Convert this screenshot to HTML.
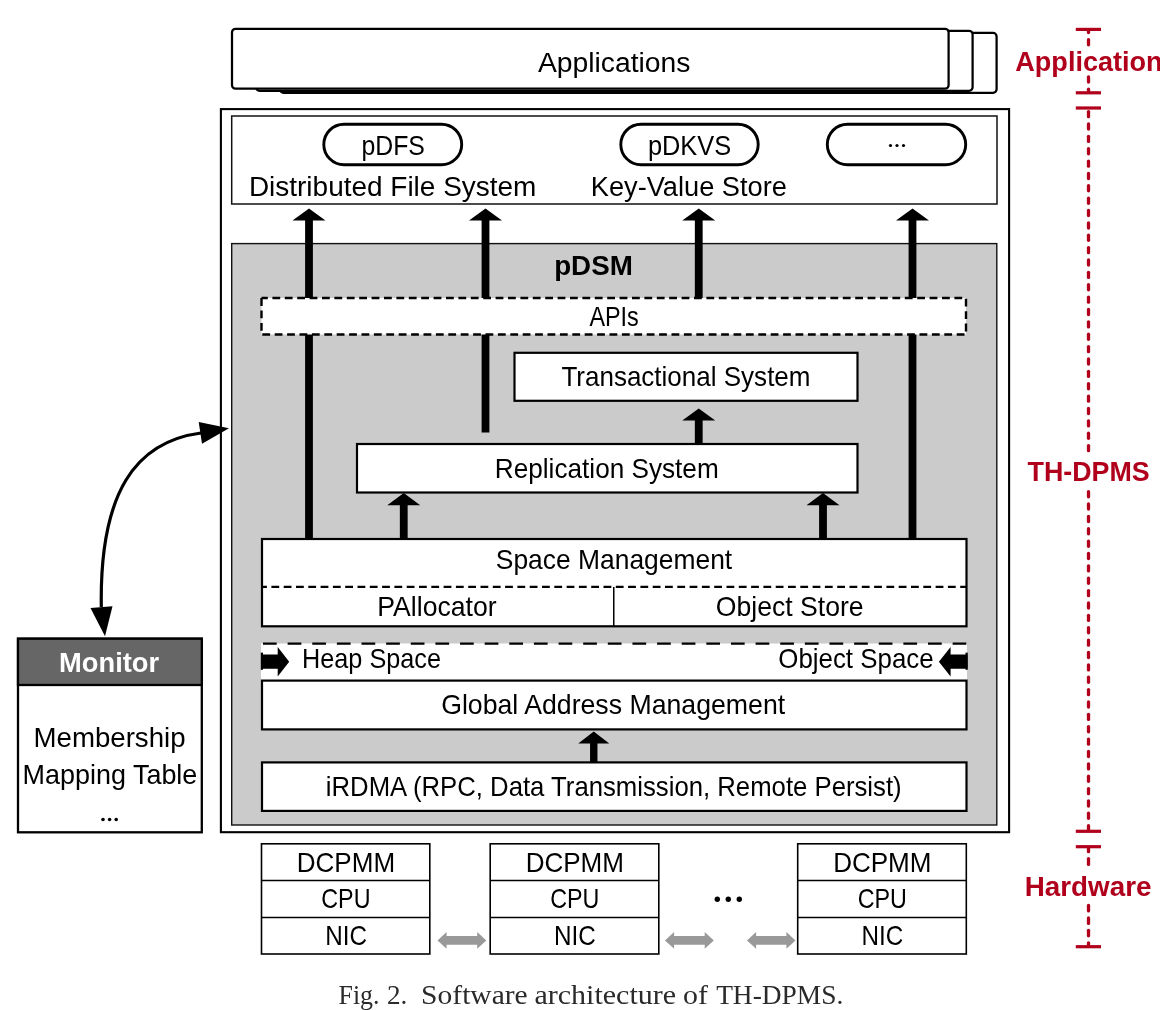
<!DOCTYPE html>
<html><head><meta charset="utf-8"><title>Fig. 2</title>
<style>
html,body{margin:0;padding:0;background:#fff;}
body{width:1160px;height:1010px;overflow:hidden;font-family:"Liberation Sans",sans-serif;}
svg{display:block;will-change:transform;}
</style></head><body>
<svg width="1160" height="1010" viewBox="0 0 1160 1010">
<rect x="0" y="0" width="1160" height="1010" fill="#fff"/>
<rect x="280" y="32.9" width="716.6" height="59.9" fill="#fff" stroke="#000" stroke-width="2.25" rx="3.5"/>
<rect x="256" y="30.85" width="716.6" height="59.9" fill="#fff" stroke="#000" stroke-width="2.25" rx="3.5"/>
<rect x="232" y="28.8" width="716.6" height="59.9" fill="#fff" stroke="#000" stroke-width="2.25" rx="3.5"/>
<text x="537.91" y="71.9" font-family="'Liberation Sans', sans-serif" font-size="28.2" fill="#000" textLength="152.60" lengthAdjust="spacingAndGlyphs">Applications</text>
<rect x="220.9" y="109.1" width="788.2" height="723.1" fill="#fff" stroke="#000" stroke-width="2.1"/>
<rect x="231.7" y="116" width="765.3" height="88" fill="#fff" stroke="#111" stroke-width="1.5"/>
<rect x="323.8" y="124.2" width="137.89999999999998" height="40.5" fill="#fff" stroke="#000" stroke-width="2.9" rx="20.25"/>
<rect x="620.8" y="124.2" width="137.4000000000001" height="40.5" fill="#fff" stroke="#000" stroke-width="2.9" rx="20.25"/>
<rect x="827.3" y="124.2" width="138.4000000000001" height="40.5" fill="#fff" stroke="#000" stroke-width="2.9" rx="20.25"/>
<text x="361.43" y="154.5" font-family="'Liberation Sans', sans-serif" font-size="28.2" fill="#000" textLength="63.47" lengthAdjust="spacingAndGlyphs">pDFS</text>
<text x="647.89" y="154.5" font-family="'Liberation Sans', sans-serif" font-size="28.2" fill="#000" textLength="83.27" lengthAdjust="spacingAndGlyphs">pDKVS</text>
<text x="248.92" y="195.5" font-family="'Liberation Sans', sans-serif" font-size="28.2" fill="#000" textLength="287.46" lengthAdjust="spacingAndGlyphs">Distributed File System</text>
<text x="590.73" y="195.5" font-family="'Liberation Sans', sans-serif" font-size="28.2" fill="#000" textLength="196.22" lengthAdjust="spacingAndGlyphs">Key-Value Store</text>
<circle cx="890.5" cy="145.5" r="1.6" fill="#000"/>
<circle cx="897" cy="145.5" r="1.6" fill="#000"/>
<circle cx="903.5" cy="145.5" r="1.6" fill="#000"/>
<rect x="231.7" y="243.6" width="765.0999999999999" height="581.4" fill="#cbcbcb" stroke="#111" stroke-width="1.4"/>
<path d="M309 208.6 L325.5 220.6 L312.9 220.6 L312.9 539 L305.1 539 L305.1 220.6 L292.5 220.6 Z" fill="#000"/>
<path d="M485.5 208.6 L502.0 220.6 L489.4 220.6 L489.4 432.5 L481.6 432.5 L481.6 220.6 L469.0 220.6 Z" fill="#000"/>
<path d="M698.75 208.6 L715.25 220.6 L702.65 220.6 L702.65 300 L694.85 300 L694.85 220.6 L682.25 220.6 Z" fill="#000"/>
<path d="M912.5 208.6 L929.0 220.6 L916.4 220.6 L916.4 539 L908.6 539 L908.6 220.6 L896.0 220.6 Z" fill="#000"/>
<text x="554.15" y="274.5" font-family="'Liberation Sans', sans-serif" font-size="27.8" font-weight="700" fill="#000" textLength="78.70" lengthAdjust="spacingAndGlyphs">pDSM</text>
<rect x="261.5" y="298" width="704.5" height="36.5" fill="#fff" stroke="#000" stroke-width="2.4" stroke-dasharray="7.8 4.6" stroke-dashoffset="1.5"/>
<text x="589.42" y="325.8" font-family="'Liberation Sans', sans-serif" font-size="27.6" fill="#000" textLength="49.40" lengthAdjust="spacingAndGlyphs">APIs</text>
<rect x="514.5" y="352.8" width="343.0" height="48.0" fill="#fff" stroke="#000" stroke-width="2.2"/>
<text x="561.39" y="386" font-family="'Liberation Sans', sans-serif" font-size="27.6" fill="#000" textLength="249.12" lengthAdjust="spacingAndGlyphs">Transactional System</text>
<path d="M698.75 408.5 L715.25 420.5 L702.65 420.5 L702.65 443 L694.85 443 L694.85 420.5 L682.25 420.5 Z" fill="#000"/>
<rect x="357" y="444" width="500.5" height="48.5" fill="#fff" stroke="#000" stroke-width="2.2"/>
<text x="494.82" y="477.6" font-family="'Liberation Sans', sans-serif" font-size="27.6" fill="#000" textLength="223.90" lengthAdjust="spacingAndGlyphs">Replication System</text>
<path d="M403.75 493 L420.25 505.3 L407.65 505.3 L407.65 538 L399.85 538 L399.85 505.3 L387.25 505.3 Z" fill="#000"/>
<path d="M823 493 L839.5 505.3 L826.9 505.3 L826.9 538 L819.1 538 L819.1 505.3 L806.5 505.3 Z" fill="#000"/>
<rect x="262" y="539" width="704.5" height="87.29999999999995" fill="#fff" stroke="#000" stroke-width="2.2"/>
<line x1="262" y1="586.9" x2="966.5" y2="586.9" stroke="#000" stroke-width="2.4" stroke-dasharray="7.8 4.5" stroke-dashoffset="2.9"/>
<line x1="613.75" y1="587" x2="613.75" y2="626" stroke="#000" stroke-width="1.5" />
<text x="495.77" y="568.75" font-family="'Liberation Sans', sans-serif" font-size="27.6" fill="#000" textLength="236.41" lengthAdjust="spacingAndGlyphs">Space Management</text>
<text x="377.28" y="615.75" font-family="'Liberation Sans', sans-serif" font-size="27.6" fill="#000" textLength="119.41" lengthAdjust="spacingAndGlyphs">PAllocator</text>
<text x="715.76" y="615.75" font-family="'Liberation Sans', sans-serif" font-size="27.6" fill="#000" textLength="147.84" lengthAdjust="spacingAndGlyphs">Object Store</text>
<rect x="261" y="643.5" width="706" height="37.5" fill="#fff" stroke="#000" stroke-width="0"/>
<line x1="263" y1="643.6" x2="967.5" y2="643.6" stroke="#000" stroke-width="2.4" stroke-dasharray="13.7 10.93"/>
<line x1="261.9" y1="652.6" x2="261.9" y2="669.8" stroke="#000" stroke-width="2.2" />
<line x1="966.6" y1="652.6" x2="966.6" y2="669.8" stroke="#000" stroke-width="2.2" />
<path d="M261 654.4 L277.7 654.4 L277.7 647 L289.2 661.8 L277.7 676.6 L277.7 668.7 L261 668.7 Z" fill="#000"/>
<path d="M967.5 654.4 L950.6 654.4 L950.6 647 L938.9 661.8 L950.6 676.6 L950.6 668.7 L967.5 668.7 Z" fill="#000"/>
<text x="302.10" y="667.8" font-family="'Liberation Sans', sans-serif" font-size="27.6" fill="#000" textLength="138.81" lengthAdjust="spacingAndGlyphs">Heap Space</text>
<text x="778.29" y="667.8" font-family="'Liberation Sans', sans-serif" font-size="27.6" fill="#000" textLength="155.33" lengthAdjust="spacingAndGlyphs">Object Space</text>
<rect x="262" y="680.6" width="704.5" height="48.799999999999955" fill="#fff" stroke="#000" stroke-width="2.2"/>
<text x="441.17" y="713.75" font-family="'Liberation Sans', sans-serif" font-size="27.6" fill="#000" textLength="344.00" lengthAdjust="spacingAndGlyphs">Global Address Management</text>
<path d="M593.75 731.6 L609.25 743.4 L597.45 743.4 L597.45 762 L590.05 762 L590.05 743.4 L578.25 743.4 Z" fill="#000"/>
<rect x="262" y="762.4" width="704.5" height="48.5" fill="#fff" stroke="#000" stroke-width="2.2"/>
<text x="325.79" y="795.75" font-family="'Liberation Sans', sans-serif" font-size="27.6" fill="#000" textLength="575.86" lengthAdjust="spacingAndGlyphs">iRDMA (RPC, Data Transmission, Remote Persist)</text>
<rect x="18" y="638.7" width="183.8" height="193.5999999999999" fill="#fff" stroke="#000" stroke-width="2.3"/>
<rect x="18" y="638.7" width="183.8" height="46.3" fill="#666" stroke="#000" stroke-width="2.3"/>
<text x="59.08" y="671.6" font-family="'Liberation Sans', sans-serif" font-size="27.8" font-weight="700" fill="#fff" textLength="100.09" lengthAdjust="spacingAndGlyphs">Monitor</text>
<text x="33.50" y="747" font-family="'Liberation Sans', sans-serif" font-size="27.6" fill="#000" textLength="152.06" lengthAdjust="spacingAndGlyphs">Membership</text>
<text x="22.55" y="783.75" font-family="'Liberation Sans', sans-serif" font-size="27.6" fill="#000" textLength="174.80" lengthAdjust="spacingAndGlyphs">Mapping Table</text>
<circle cx="103" cy="819.5" r="1.8" fill="#000"/>
<circle cx="109.6" cy="819.5" r="1.8" fill="#000"/>
<circle cx="116.2" cy="819.5" r="1.8" fill="#000"/>
<path d="M201 433 C135.4 441.6, 99.5 492.4, 101.3 607" fill="none" stroke="#000" stroke-width="3.2"/>
<path d="M229 428.3 L198.7 422 L202 443.8 Z" fill="#000"/>
<path d="M105 636.3 L90.5 608 L112.5 606.2 Z" fill="#000"/>
<rect x="261.5" y="843.8" width="168.3" height="110.20000000000005" fill="#fff" stroke="#000" stroke-width="1.6"/>
<line x1="261.5" y1="880.5" x2="429.8" y2="880.5" stroke="#000" stroke-width="1.6" />
<line x1="261.5" y1="917.5" x2="429.8" y2="917.5" stroke="#000" stroke-width="1.6" />
<text x="296.78" y="871.7" font-family="'Liberation Sans', sans-serif" font-size="27.2" fill="#000" textLength="98.36" lengthAdjust="spacingAndGlyphs">DCPMM</text>
<text x="321.29" y="908.4" font-family="'Liberation Sans', sans-serif" font-size="27.2" fill="#000" textLength="49.18" lengthAdjust="spacingAndGlyphs">CPU</text>
<text x="325.23" y="945.3" font-family="'Liberation Sans', sans-serif" font-size="27.2" fill="#000" textLength="41.76" lengthAdjust="spacingAndGlyphs">NIC</text>
<rect x="490.2" y="843.8" width="168.59999999999997" height="110.20000000000005" fill="#fff" stroke="#000" stroke-width="1.6"/>
<line x1="490.2" y1="880.5" x2="658.8" y2="880.5" stroke="#000" stroke-width="1.6" />
<line x1="490.2" y1="917.5" x2="658.8" y2="917.5" stroke="#000" stroke-width="1.6" />
<text x="525.63" y="871.7" font-family="'Liberation Sans', sans-serif" font-size="27.2" fill="#000" textLength="98.36" lengthAdjust="spacingAndGlyphs">DCPMM</text>
<text x="550.14" y="908.4" font-family="'Liberation Sans', sans-serif" font-size="27.2" fill="#000" textLength="49.18" lengthAdjust="spacingAndGlyphs">CPU</text>
<text x="554.08" y="945.3" font-family="'Liberation Sans', sans-serif" font-size="27.2" fill="#000" textLength="41.76" lengthAdjust="spacingAndGlyphs">NIC</text>
<rect x="797.7" y="843.8" width="168.5999999999999" height="110.20000000000005" fill="#fff" stroke="#000" stroke-width="1.6"/>
<line x1="797.7" y1="880.5" x2="966.3" y2="880.5" stroke="#000" stroke-width="1.6" />
<line x1="797.7" y1="917.5" x2="966.3" y2="917.5" stroke="#000" stroke-width="1.6" />
<text x="833.13" y="871.7" font-family="'Liberation Sans', sans-serif" font-size="27.2" fill="#000" textLength="98.36" lengthAdjust="spacingAndGlyphs">DCPMM</text>
<text x="857.64" y="908.4" font-family="'Liberation Sans', sans-serif" font-size="27.2" fill="#000" textLength="49.18" lengthAdjust="spacingAndGlyphs">CPU</text>
<text x="861.58" y="945.3" font-family="'Liberation Sans', sans-serif" font-size="27.2" fill="#000" textLength="41.76" lengthAdjust="spacingAndGlyphs">NIC</text>
<path d="M437.5 940.4 L446.6 932.0 L446.6 936.1 L477.2 936.1 L477.2 932.0 L486.3 940.4 L477.2 948.8 L477.2 944.6999999999999 L446.6 944.6999999999999 L446.6 948.8 Z" fill="#999"/>
<path d="M665 940.4 L674.1 932.0 L674.1 936.1 L704.6999999999999 936.1 L704.6999999999999 932.0 L713.8 940.4 L704.6999999999999 948.8 L704.6999999999999 944.6999999999999 L674.1 944.6999999999999 L674.1 948.8 Z" fill="#999"/>
<path d="M747 940.4 L756.1 932.0 L756.1 936.1 L786.4 936.1 L786.4 932.0 L795.5 940.4 L786.4 948.8 L786.4 944.6999999999999 L756.1 944.6999999999999 L756.1 948.8 Z" fill="#999"/>
<circle cx="717.3" cy="899.2" r="2.7" fill="#000"/>
<circle cx="728.3" cy="899.2" r="2.7" fill="#000"/>
<circle cx="739.3" cy="899.2" r="2.7" fill="#000"/>
<line x1="1075.8" y1="29.4" x2="1101" y2="29.4" stroke="#b0001c" stroke-width="3.2" />
<line x1="1075.8" y1="92.8" x2="1101" y2="92.8" stroke="#b0001c" stroke-width="3.2" />
<line x1="1075.8" y1="108" x2="1101" y2="108" stroke="#b0001c" stroke-width="3.2" />
<line x1="1075.8" y1="831.3" x2="1101" y2="831.3" stroke="#b0001c" stroke-width="3.2" />
<line x1="1075.8" y1="846.7" x2="1101" y2="846.7" stroke="#b0001c" stroke-width="3.2" />
<line x1="1075.8" y1="946.7" x2="1101" y2="946.7" stroke="#b0001c" stroke-width="3.2" />
<line x1="1088.5" y1="30.15" x2="1088.5" y2="32.5" stroke="#b0001c" stroke-width="3.3" stroke-linecap="round"/>
<line x1="1088.5" y1="39.75" x2="1088.5" y2="44.75" stroke="#b0001c" stroke-width="3.3" stroke-linecap="round"/>
<line x1="1088.5" y1="76.85" x2="1088.5" y2="82.05" stroke="#b0001c" stroke-width="3.3" stroke-linecap="round"/>
<line x1="1088.5" y1="89.25" x2="1088.5" y2="92.35" stroke="#b0001c" stroke-width="3.3" stroke-linecap="round"/>
<line x1="1088.5" y1="111.55" x2="1088.5" y2="116.65" stroke="#b0001c" stroke-width="3.3" stroke-linecap="round"/>
<line x1="1088.5" y1="123.92" x2="1088.5" y2="129.02" stroke="#b0001c" stroke-width="3.3" stroke-linecap="round"/>
<line x1="1088.5" y1="136.29" x2="1088.5" y2="141.39" stroke="#b0001c" stroke-width="3.3" stroke-linecap="round"/>
<line x1="1088.5" y1="148.66" x2="1088.5" y2="153.76" stroke="#b0001c" stroke-width="3.3" stroke-linecap="round"/>
<line x1="1088.5" y1="161.03" x2="1088.5" y2="166.13" stroke="#b0001c" stroke-width="3.3" stroke-linecap="round"/>
<line x1="1088.5" y1="173.4" x2="1088.5" y2="178.5" stroke="#b0001c" stroke-width="3.3" stroke-linecap="round"/>
<line x1="1088.5" y1="185.77" x2="1088.5" y2="190.87" stroke="#b0001c" stroke-width="3.3" stroke-linecap="round"/>
<line x1="1088.5" y1="198.14" x2="1088.5" y2="203.24" stroke="#b0001c" stroke-width="3.3" stroke-linecap="round"/>
<line x1="1088.5" y1="210.51" x2="1088.5" y2="215.61" stroke="#b0001c" stroke-width="3.3" stroke-linecap="round"/>
<line x1="1088.5" y1="222.88" x2="1088.5" y2="227.98" stroke="#b0001c" stroke-width="3.3" stroke-linecap="round"/>
<line x1="1088.5" y1="235.25" x2="1088.5" y2="240.35" stroke="#b0001c" stroke-width="3.3" stroke-linecap="round"/>
<line x1="1088.5" y1="247.62" x2="1088.5" y2="252.72" stroke="#b0001c" stroke-width="3.3" stroke-linecap="round"/>
<line x1="1088.5" y1="259.99" x2="1088.5" y2="265.09" stroke="#b0001c" stroke-width="3.3" stroke-linecap="round"/>
<line x1="1088.5" y1="272.36" x2="1088.5" y2="277.46" stroke="#b0001c" stroke-width="3.3" stroke-linecap="round"/>
<line x1="1088.5" y1="284.73" x2="1088.5" y2="289.83" stroke="#b0001c" stroke-width="3.3" stroke-linecap="round"/>
<line x1="1088.5" y1="297.1" x2="1088.5" y2="302.2" stroke="#b0001c" stroke-width="3.3" stroke-linecap="round"/>
<line x1="1088.5" y1="309.47" x2="1088.5" y2="314.57" stroke="#b0001c" stroke-width="3.3" stroke-linecap="round"/>
<line x1="1088.5" y1="321.84" x2="1088.5" y2="326.94" stroke="#b0001c" stroke-width="3.3" stroke-linecap="round"/>
<line x1="1088.5" y1="334.21" x2="1088.5" y2="339.31" stroke="#b0001c" stroke-width="3.3" stroke-linecap="round"/>
<line x1="1088.5" y1="346.58" x2="1088.5" y2="351.68" stroke="#b0001c" stroke-width="3.3" stroke-linecap="round"/>
<line x1="1088.5" y1="358.95" x2="1088.5" y2="364.05" stroke="#b0001c" stroke-width="3.3" stroke-linecap="round"/>
<line x1="1088.5" y1="371.32" x2="1088.5" y2="376.42" stroke="#b0001c" stroke-width="3.3" stroke-linecap="round"/>
<line x1="1088.5" y1="383.69" x2="1088.5" y2="388.79" stroke="#b0001c" stroke-width="3.3" stroke-linecap="round"/>
<line x1="1088.5" y1="396.06" x2="1088.5" y2="401.16" stroke="#b0001c" stroke-width="3.3" stroke-linecap="round"/>
<line x1="1088.5" y1="408.43" x2="1088.5" y2="413.53" stroke="#b0001c" stroke-width="3.3" stroke-linecap="round"/>
<line x1="1088.5" y1="420.8" x2="1088.5" y2="425.9" stroke="#b0001c" stroke-width="3.3" stroke-linecap="round"/>
<line x1="1088.5" y1="433.17" x2="1088.5" y2="438.27" stroke="#b0001c" stroke-width="3.3" stroke-linecap="round"/>
<line x1="1088.5" y1="445.54" x2="1088.5" y2="450.64" stroke="#b0001c" stroke-width="3.3" stroke-linecap="round"/>
<line x1="1088.5" y1="491.65" x2="1088.5" y2="496.75" stroke="#b0001c" stroke-width="3.3" stroke-linecap="round"/>
<line x1="1088.5" y1="504.02" x2="1088.5" y2="509.12" stroke="#b0001c" stroke-width="3.3" stroke-linecap="round"/>
<line x1="1088.5" y1="516.39" x2="1088.5" y2="521.49" stroke="#b0001c" stroke-width="3.3" stroke-linecap="round"/>
<line x1="1088.5" y1="528.76" x2="1088.5" y2="533.86" stroke="#b0001c" stroke-width="3.3" stroke-linecap="round"/>
<line x1="1088.5" y1="541.13" x2="1088.5" y2="546.23" stroke="#b0001c" stroke-width="3.3" stroke-linecap="round"/>
<line x1="1088.5" y1="553.5" x2="1088.5" y2="558.6" stroke="#b0001c" stroke-width="3.3" stroke-linecap="round"/>
<line x1="1088.5" y1="565.87" x2="1088.5" y2="570.97" stroke="#b0001c" stroke-width="3.3" stroke-linecap="round"/>
<line x1="1088.5" y1="578.24" x2="1088.5" y2="583.34" stroke="#b0001c" stroke-width="3.3" stroke-linecap="round"/>
<line x1="1088.5" y1="590.61" x2="1088.5" y2="595.71" stroke="#b0001c" stroke-width="3.3" stroke-linecap="round"/>
<line x1="1088.5" y1="602.98" x2="1088.5" y2="608.08" stroke="#b0001c" stroke-width="3.3" stroke-linecap="round"/>
<line x1="1088.5" y1="615.35" x2="1088.5" y2="620.45" stroke="#b0001c" stroke-width="3.3" stroke-linecap="round"/>
<line x1="1088.5" y1="627.72" x2="1088.5" y2="632.82" stroke="#b0001c" stroke-width="3.3" stroke-linecap="round"/>
<line x1="1088.5" y1="640.09" x2="1088.5" y2="645.19" stroke="#b0001c" stroke-width="3.3" stroke-linecap="round"/>
<line x1="1088.5" y1="652.46" x2="1088.5" y2="657.56" stroke="#b0001c" stroke-width="3.3" stroke-linecap="round"/>
<line x1="1088.5" y1="664.83" x2="1088.5" y2="669.93" stroke="#b0001c" stroke-width="3.3" stroke-linecap="round"/>
<line x1="1088.5" y1="677.2" x2="1088.5" y2="682.3" stroke="#b0001c" stroke-width="3.3" stroke-linecap="round"/>
<line x1="1088.5" y1="689.57" x2="1088.5" y2="694.67" stroke="#b0001c" stroke-width="3.3" stroke-linecap="round"/>
<line x1="1088.5" y1="701.94" x2="1088.5" y2="707.04" stroke="#b0001c" stroke-width="3.3" stroke-linecap="round"/>
<line x1="1088.5" y1="714.31" x2="1088.5" y2="719.41" stroke="#b0001c" stroke-width="3.3" stroke-linecap="round"/>
<line x1="1088.5" y1="726.68" x2="1088.5" y2="731.78" stroke="#b0001c" stroke-width="3.3" stroke-linecap="round"/>
<line x1="1088.5" y1="739.05" x2="1088.5" y2="744.15" stroke="#b0001c" stroke-width="3.3" stroke-linecap="round"/>
<line x1="1088.5" y1="751.42" x2="1088.5" y2="756.52" stroke="#b0001c" stroke-width="3.3" stroke-linecap="round"/>
<line x1="1088.5" y1="763.79" x2="1088.5" y2="768.89" stroke="#b0001c" stroke-width="3.3" stroke-linecap="round"/>
<line x1="1088.5" y1="776.16" x2="1088.5" y2="781.26" stroke="#b0001c" stroke-width="3.3" stroke-linecap="round"/>
<line x1="1088.5" y1="788.53" x2="1088.5" y2="793.63" stroke="#b0001c" stroke-width="3.3" stroke-linecap="round"/>
<line x1="1088.5" y1="800.9" x2="1088.5" y2="806.0" stroke="#b0001c" stroke-width="3.3" stroke-linecap="round"/>
<line x1="1088.5" y1="813.27" x2="1088.5" y2="818.37" stroke="#b0001c" stroke-width="3.3" stroke-linecap="round"/>
<line x1="1088.5" y1="825.64" x2="1088.5" y2="830.74" stroke="#b0001c" stroke-width="3.3" stroke-linecap="round"/>
<line x1="1088.5" y1="847.65" x2="1088.5" y2="851.65" stroke="#b0001c" stroke-width="3.3" stroke-linecap="round"/>
<line x1="1088.5" y1="858.55" x2="1088.5" y2="864.45" stroke="#b0001c" stroke-width="3.3" stroke-linecap="round"/>
<line x1="1088.5" y1="905.45" x2="1088.5" y2="910.95" stroke="#b0001c" stroke-width="3.3" stroke-linecap="round"/>
<line x1="1088.5" y1="917.95" x2="1088.5" y2="923.45" stroke="#b0001c" stroke-width="3.3" stroke-linecap="round"/>
<line x1="1088.5" y1="930.35" x2="1088.5" y2="935.85" stroke="#b0001c" stroke-width="3.3" stroke-linecap="round"/>
<line x1="1088.5" y1="942.85" x2="1088.5" y2="946.35" stroke="#b0001c" stroke-width="3.3" stroke-linecap="round"/>
<text x="1015.28" y="71.3" font-family="'Liberation Sans', sans-serif" font-size="27.5" font-weight="700" fill="#b0001c" textLength="147.37" lengthAdjust="spacingAndGlyphs">Application</text>
<text x="1027.53" y="481.4" font-family="'Liberation Sans', sans-serif" font-size="27.8" font-weight="700" fill="#b0001c" textLength="122.19" lengthAdjust="spacingAndGlyphs">TH-DPMS</text>
<text x="1024.75" y="895.8" font-family="'Liberation Sans', sans-serif" font-size="27.8" font-weight="700" fill="#b0001c" textLength="126.71" lengthAdjust="spacingAndGlyphs">Hardware</text>
<text x="338.53" y="1003.6" font-family="'Liberation Serif', sans-serif" font-size="28" fill="#2a2a2a" textLength="40.91" lengthAdjust="spacingAndGlyphs">Fig.</text>
<text x="387.02" y="1003.6" font-family="'Liberation Serif', sans-serif" font-size="28" fill="#2a2a2a" textLength="20.39" lengthAdjust="spacingAndGlyphs">2.</text>
<text x="421.13" y="1003.6" font-family="'Liberation Serif', sans-serif" font-size="28" fill="#2a2a2a" textLength="106.55" lengthAdjust="spacingAndGlyphs">Software</text>
<text x="534.50" y="1003.6" font-family="'Liberation Serif', sans-serif" font-size="28" fill="#2a2a2a" textLength="141.56" lengthAdjust="spacingAndGlyphs">architecture</text>
<text x="683.10" y="1003.6" font-family="'Liberation Serif', sans-serif" font-size="28" fill="#2a2a2a" textLength="24.89" lengthAdjust="spacingAndGlyphs">of</text>
<text x="716.14" y="1003.6" font-family="'Liberation Serif', sans-serif" font-size="28" fill="#2a2a2a" textLength="127.18" lengthAdjust="spacingAndGlyphs">TH-DPMS.</text>
</svg>
</body></html>
